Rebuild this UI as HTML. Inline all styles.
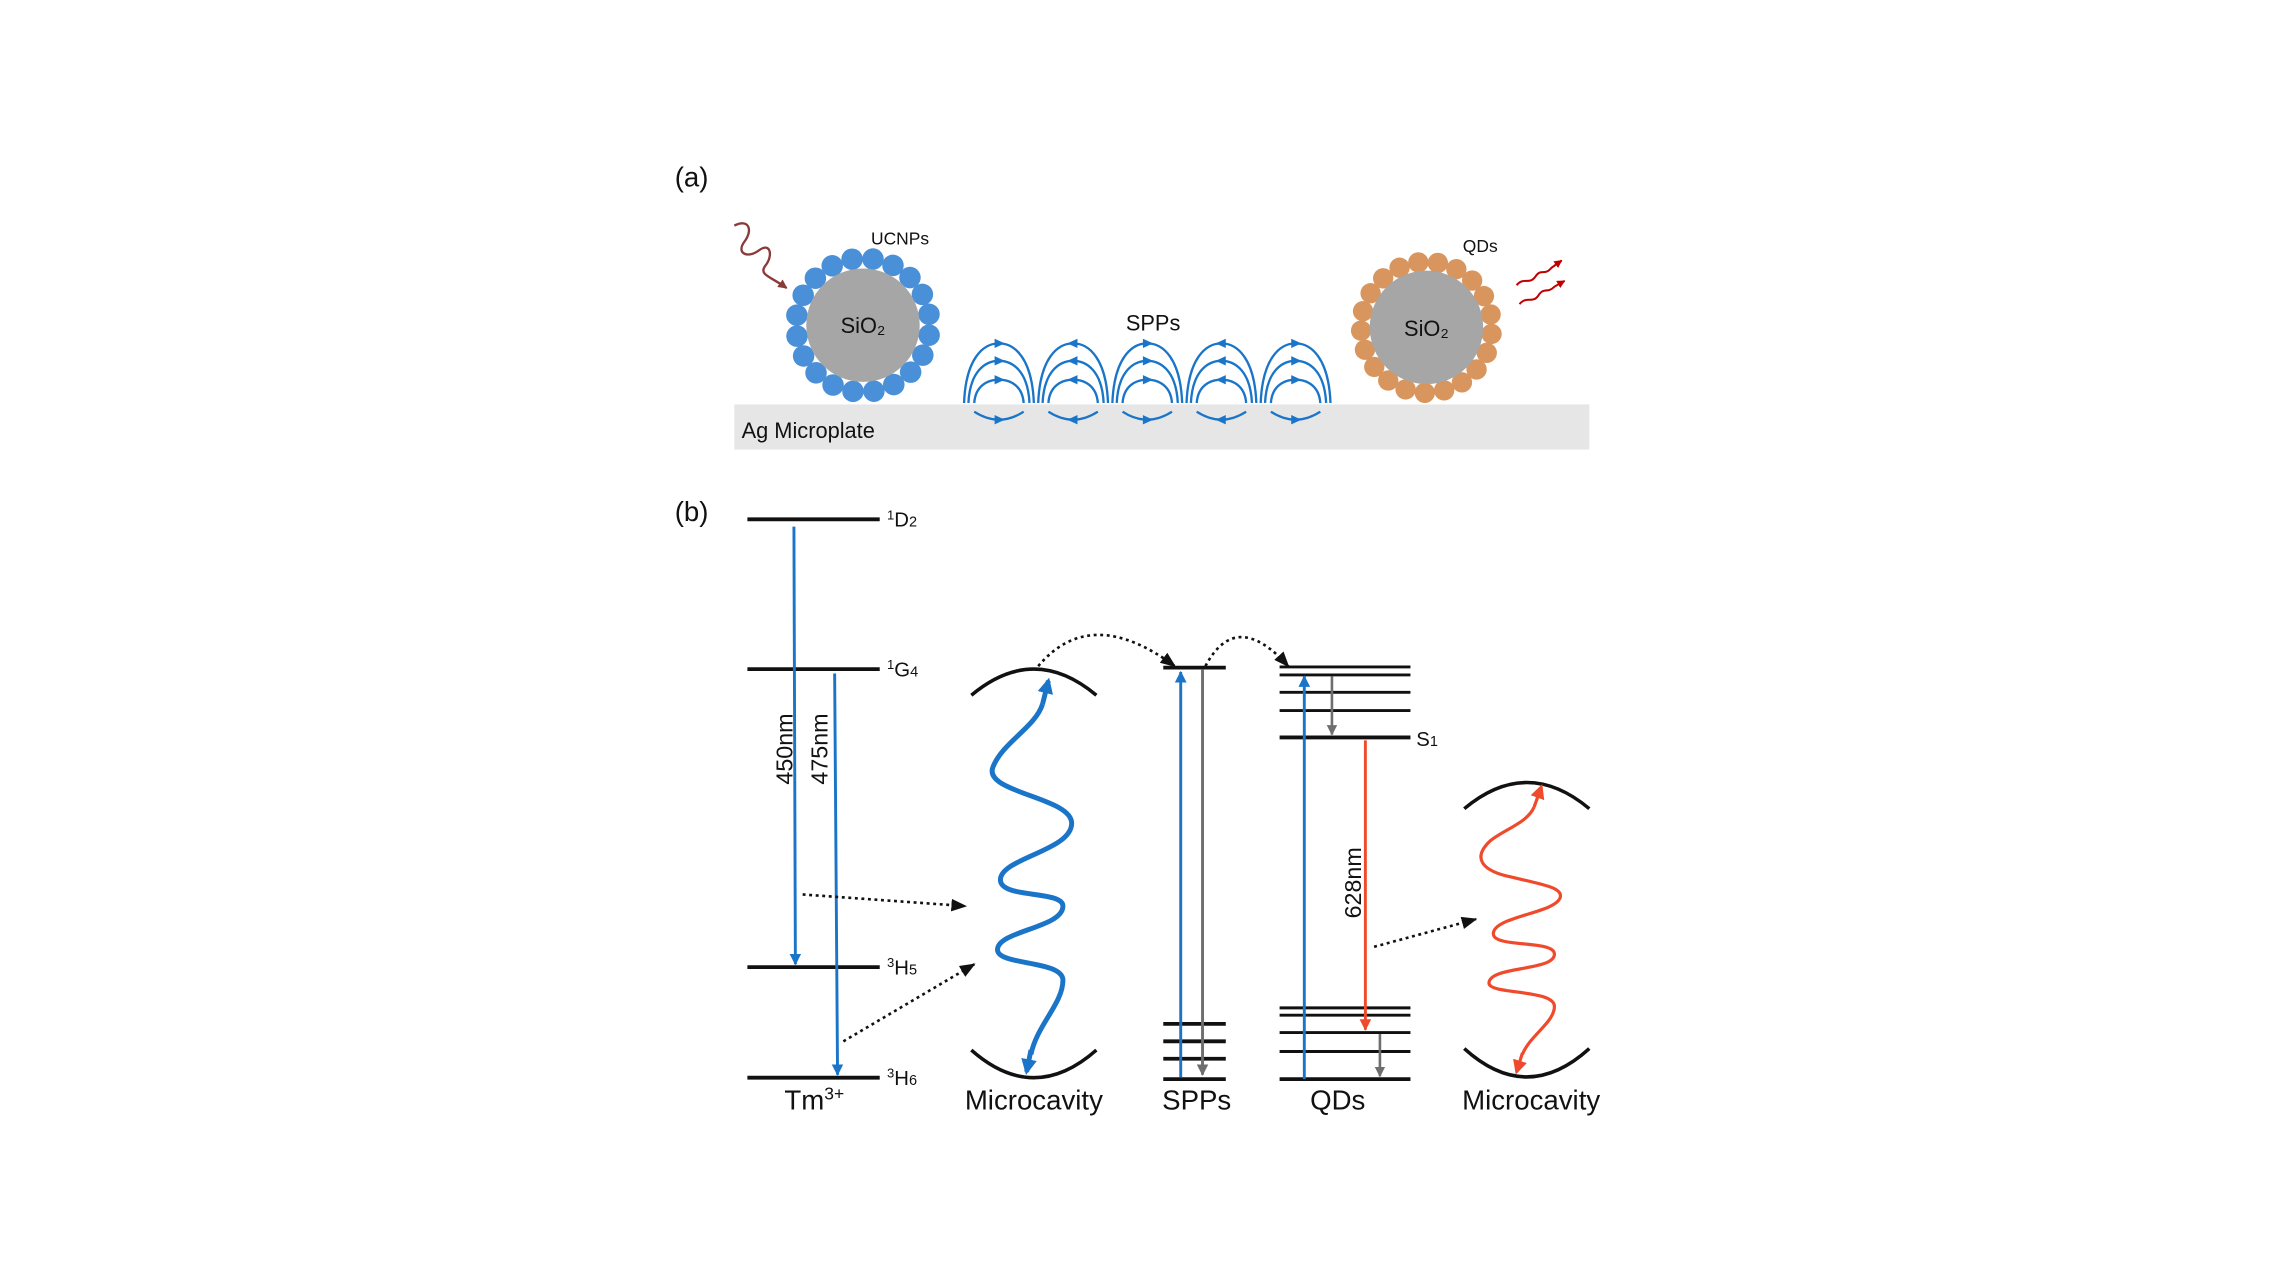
<!DOCTYPE html>
<html><head><meta charset="utf-8"><style>
html,body{margin:0;padding:0;background:#fff;}
svg{display:block;}
text{font-family:"Liberation Sans",Arial,sans-serif;fill:#111;}
</style></head><body>
<svg id="s" width="2280" height="1280" viewBox="0 0 1568 880" xmlns="http://www.w3.org/2000/svg">
<defs>
<marker id="ab" viewBox="0 0 10 10" refX="9" refY="5" markerWidth="4" markerHeight="4" orient="auto"><path d="M0,0L10,5L0,10z" fill="#1a75c8"/></marker>
<marker id="ab2" viewBox="0 0 10 10" refX="8" refY="5" markerWidth="3.2" markerHeight="3.2" orient="auto"><path d="M0,0L10,5L0,10z" fill="#1a75c8"/></marker>
<marker id="ag" viewBox="0 0 10 10" refX="9" refY="5" markerWidth="4" markerHeight="4" orient="auto"><path d="M0,0L10,5L0,10z" fill="#6e6e6e"/></marker>
<marker id="ar" viewBox="0 0 10 10" refX="9" refY="5" markerWidth="4" markerHeight="4" orient="auto"><path d="M0,0L10,5L0,10z" fill="#f04a2c"/></marker>
<marker id="ar2" viewBox="0 0 10 10" refX="8" refY="5" markerWidth="4.5" markerHeight="4.5" orient="auto"><path d="M0,0L10,5L0,10z" fill="#f04a2c"/></marker>
<marker id="ak" viewBox="0 0 10 10" refX="9" refY="5" markerWidth="6" markerHeight="6" orient="auto"><path d="M0,1L10,5L0,9z" fill="#111"/></marker>
<marker id="abr" viewBox="0 0 10 10" refX="9" refY="5" markerWidth="4" markerHeight="4" orient="auto"><path d="M0,0L10,5L0,10z" fill="#8b3a3a"/></marker>
<marker id="ared" viewBox="0 0 10 10" refX="9" refY="5" markerWidth="4" markerHeight="4" orient="auto"><path d="M0,0L10,5L0,10z" fill="#c00000"/></marker>
</defs>

<!-- (a) -->
<text x="464" y="128" font-size="19">(a)</text>
<rect x="505" y="278" width="588" height="31" fill="#e6e6e6"/>
<text x="510" y="301" font-size="15">Ag Microplate</text>

<g id="ucnp"></g>
<circle cx="593.5" cy="223.5" r="39" fill="#a6a6a6"/>
<text x="593.5" y="229" font-size="15" text-anchor="middle">SiO₂</text>
<text x="599" y="168" font-size="12">UCNPs</text>

<g id="qd"></g>
<circle cx="981" cy="225" r="39" fill="#a6a6a6"/>
<text x="981" y="231" font-size="15" text-anchor="middle">SiO₂</text>
<text x="1006" y="173" font-size="12">QDs</text>

<path d="M505,155 C515,150 518,158 512,166 C506,174 514,178 522,172 C530,166 532,176 526,183 C522,189 530,190 541,198" fill="none" stroke="#8b3a3a" stroke-width="1.6" marker-end="url(#abr)"/>
<path d="M1043,196 C1048,190 1052,196 1056,190 C1060,184 1062,190 1067,184 L1074,179" fill="none" stroke="#c00000" stroke-width="1.4" marker-end="url(#ared)"/>
<path d="M1045,209 C1050,203 1054,209 1058,203 C1062,197 1064,202 1069,197 L1076,193" fill="none" stroke="#c00000" stroke-width="1.4" marker-end="url(#ared)"/>

<text x="793" y="227" font-size="15" text-anchor="middle">SPPs</text>
<g id="spp" fill="none" stroke="#1a75c8" stroke-width="1.6"></g>

<!-- (b) -->
<text x="464" y="358" font-size="19">(b)</text>
<g stroke="#111" stroke-width="2.6">
<line x1="514" y1="357" x2="605" y2="357"/>
<line x1="514" y1="460" x2="605" y2="460"/>
<line x1="514" y1="665" x2="605" y2="665"/>
<line x1="514" y1="741" x2="605" y2="741"/>
</g>
<text x="610" y="362" font-size="14"><tspan font-size="9" dy="-5">1</tspan><tspan dy="5">D</tspan><tspan font-size="10">2</tspan></text>
<text x="610" y="465" font-size="14"><tspan font-size="9" dy="-5">1</tspan><tspan dy="5">G</tspan><tspan font-size="10">4</tspan></text>
<text x="610" y="670" font-size="14"><tspan font-size="9" dy="-5">3</tspan><tspan dy="5">H</tspan><tspan font-size="10">5</tspan></text>
<text x="610" y="746" font-size="14"><tspan font-size="9" dy="-5">3</tspan><tspan dy="5">H</tspan><tspan font-size="10">6</tspan></text>
<line x1="546" y1="362" x2="547" y2="663" stroke="#1a75c8" stroke-width="2" marker-end="url(#ab)"/>
<line x1="574" y1="463" x2="576" y2="739" stroke="#1a75c8" stroke-width="2" marker-end="url(#ab)"/>
<text transform="translate(545,515) rotate(-90)" font-size="16" text-anchor="middle">450nm</text>
<text transform="translate(569,515) rotate(-90)" font-size="16" text-anchor="middle">475nm</text>
<text x="560" y="763" font-size="19" text-anchor="middle">Tm<tspan font-size="12" dy="-7">3+</tspan></text>

<!-- microcavity left -->
<path d="M668,478 Q711,442 754,478" fill="none" stroke="#111" stroke-width="2.4"/>
<path d="M668,722 Q711,760 754,722" fill="none" stroke="#111" stroke-width="2.4"/>
<path d="M717,484 C712,500 690,510 683,527 C675,545 737,548 737,566 C737,585 688,590 688,605 C688,618 731,612 731,623 C731,638 686,640 686,653 C686,664 731,660 731,674 C731,690 713,705 709,725" fill="none" stroke="#1a75c8" stroke-width="3.4"/>
<path d="M717,484 L721,468" stroke="#1a75c8" stroke-width="3.4" marker-end="url(#ab2)"/>
<path d="M709,722 L706,737" stroke="#1a75c8" stroke-width="3.4" marker-end="url(#ab2)"/>
<text x="711" y="763" font-size="19" text-anchor="middle">Microcavity</text>

<g fill="none" stroke="#111" stroke-width="1.8" stroke-dasharray="2 2.5">
<path d="M552,615 L664,623" marker-end="url(#ak)"/>
<path d="M580,716 L670,663" marker-end="url(#ak)"/>
<path d="M714,458 Q750,415 808,458" marker-end="url(#ak)"/>
<path d="M829,458 Q850,418 886,458" marker-end="url(#ak)"/>
<path d="M945,651 L1015,632" marker-end="url(#ak)"/>
</g>

<!-- SPPs levels -->
<g stroke="#111" stroke-width="2.6">
<line x1="800" y1="459" x2="843" y2="459"/>
<line x1="800" y1="704" x2="843" y2="704"/>
<line x1="800" y1="716" x2="843" y2="716"/>
<line x1="800" y1="728" x2="843" y2="728"/>
<line x1="800" y1="742" x2="843" y2="742"/>
</g>
<line x1="812" y1="741" x2="812" y2="462" stroke="#1a75c8" stroke-width="2" marker-end="url(#ab)"/>
<line x1="827" y1="460" x2="827" y2="739" stroke="#6e6e6e" stroke-width="2" marker-end="url(#ag)"/>
<text x="823" y="763" font-size="19" text-anchor="middle">SPPs</text>

<!-- QDs levels -->
<g stroke="#111" stroke-width="2">
<line x1="880" y1="458.5" x2="970" y2="458.5"/>
<line x1="880" y1="464" x2="970" y2="464"/>
<line x1="880" y1="476" x2="970" y2="476"/>
<line x1="880" y1="488.5" x2="970" y2="488.5"/>
<line x1="880" y1="507" x2="970" y2="507" stroke-width="2.6"/>
<line x1="880" y1="693" x2="970" y2="693"/>
<line x1="880" y1="698" x2="970" y2="698"/>
<line x1="880" y1="710" x2="970" y2="710"/>
<line x1="880" y1="723" x2="970" y2="723"/>
<line x1="880" y1="742" x2="970" y2="742" stroke-width="2.6"/>
</g>
<line x1="897" y1="742" x2="897" y2="465" stroke="#1a75c8" stroke-width="2" marker-end="url(#ab)"/>
<line x1="916" y1="465" x2="916" y2="505" stroke="#6e6e6e" stroke-width="1.8" marker-end="url(#ag)"/>
<line x1="939" y1="509" x2="939" y2="708" stroke="#f04a2c" stroke-width="2" marker-end="url(#ar)"/>
<line x1="949" y1="711" x2="949" y2="740" stroke="#6e6e6e" stroke-width="1.8" marker-end="url(#ag)"/>
<text transform="translate(936,607) rotate(-90)" font-size="16" text-anchor="middle">628nm</text>
<text x="974" y="513" font-size="14">S<tspan font-size="10">1</tspan></text>
<text x="920" y="763" font-size="19" text-anchor="middle">QDs</text>

<!-- microcavity right -->
<path d="M1007,556 Q1050,520 1093,556" fill="none" stroke="#111" stroke-width="2.4"/>
<path d="M1007,721 Q1050,760 1093,721" fill="none" stroke="#111" stroke-width="2.4"/>
<path d="M1055,555 C1050,566 1035,570 1025,578 C1012,590 1020,598 1035,602 C1060,608 1075,610 1073,617 C1070,628 1027,630 1027,642 C1027,652 1069,646 1069,656 C1069,668 1024,664 1024,676 C1024,684 1069,680 1069,692 C1069,703 1052,712 1047,725" fill="none" stroke="#f04a2c" stroke-width="2.2"/>
<path d="M1055,555 L1060,541" stroke="#f04a2c" stroke-width="2.2" marker-end="url(#ar2)"/>
<path d="M1047,724 L1043,737" stroke="#f04a2c" stroke-width="2.2" marker-end="url(#ar2)"/>
<text x="1053" y="763" font-size="19" text-anchor="middle">Microcavity</text>
</svg>
<script>
var NS="http://www.w3.org/2000/svg";
function ring(id,cx,cy,R,r,n,col,off){var g=document.getElementById(id);for(var i=0;i<n;i++){var a=off+i*2*Math.PI/n;var c=document.createElementNS(NS,"circle");c.setAttribute("cx",cx+R*Math.cos(a));c.setAttribute("cy",cy+R*Math.sin(a));c.setAttribute("r",r);c.setAttribute("fill",col);g.appendChild(c);}}
ring("ucnp",593.5,223.5,46,7.4,20,"#4a90d9",0.15);
ring("qd",981,225,45,7,21,"#d9955e",0.1);
var g=document.getElementById("spp");
var cs=[687,738,789,840,891],dirs=[1,-1,1,-1,1];
var arch=[[24,236],[21,248],[17,261]];
cs.forEach(function(cx,k){
 arch.forEach(function(a){var w=a[0],t=a[1],b=277,h=b-t;
  var p=document.createElementNS(NS,"path");
  p.setAttribute("d","M"+(cx-w)+","+b+" C"+(cx-w*0.95)+","+(t+h*0.25)+" "+(cx-w*0.45)+","+t+" "+cx+","+t+" C"+(cx+w*0.45)+","+t+" "+(cx+w*0.95)+","+(t+h*0.25)+" "+(cx+w)+","+b);
  g.appendChild(p);
  var hd=document.createElementNS(NS,"path");var d=dirs[k];
  hd.setAttribute("d","M"+(cx+4*d)+","+t+" L"+(cx-3*d)+","+(t-3.2)+" L"+(cx-3*d)+","+(t+3.2)+"z");
  hd.setAttribute("fill","#1a75c8");hd.setAttribute("stroke","none");g.appendChild(hd);
 });
 var q=document.createElementNS(NS,"path");
 q.setAttribute("d","M"+(cx-17)+",283 Q"+cx+",294 "+(cx+17)+",283");g.appendChild(q);
 var d=dirs[k]; var y=288.5;
 var h2=document.createElementNS(NS,"path");
 h2.setAttribute("d","M"+(cx+4*d)+","+y+" L"+(cx-3*d)+","+(y-3.2)+" L"+(cx-3*d)+","+(y+3.2)+"z");
 h2.setAttribute("fill","#1a75c8");h2.setAttribute("stroke","none");g.appendChild(h2);
});
</script>
</body></html>
